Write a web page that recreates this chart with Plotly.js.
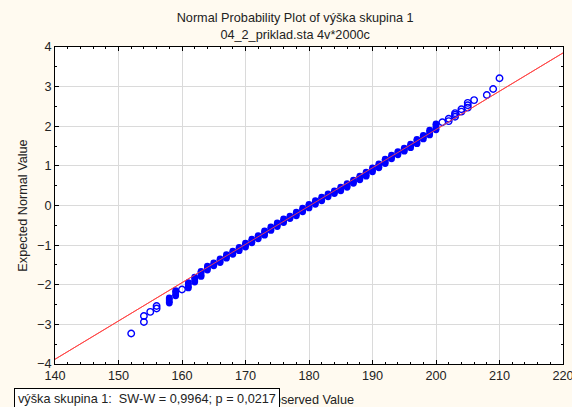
<!DOCTYPE html>
<html>
<head>
<meta charset="utf-8">
<script src="https://cdn.plot.ly/plotly-3.0.1.min.js"></script>
<style>html,body{margin:0;padding:0;background:#FFFAF0;}</style>
</head>
<body>
<div id="chart" style="width:572px;height:407px;"></div>
<script>
// Individual (sparse) observations: height vs expected normal value
const tailX = [152, 154, 154, 155, 156, 156, 160, 201, 202, 202, 203, 203, 203, 204, 204, 205, 205, 205, 206, 208, 209, 210];
const tailY = [-3.23, -2.94, -2.79, -2.685, -2.60, -2.535, -2.12, 2.10, 2.13, 2.19, 2.24, 2.29, 2.33, 2.37, 2.43, 2.47, 2.53, 2.59, 2.66, 2.79, 2.94, 3.21];

// Tied groups (dense stacks of points): height, lowest and highest expected normal value
const stackX = [158, 159, 161, 162, 163, 164, 165, 166, 167, 168, 169, 170, 171, 172, 173, 174, 175, 176, 177, 178, 179,
                180, 181, 182, 183, 184, 185, 186, 187, 188, 189, 190, 191, 192, 193, 194, 195, 196, 197, 198, 199, 200];
const stackLow = [-2.46, -2.28, -2.08, -1.93, -1.79, -1.63, -1.52, -1.44, -1.33, -1.23, -1.14, -1.05, -0.94, -0.84, -0.75, -0.63, -0.53, -0.43, -0.33, -0.26, -0.16,
                  -0.06, 0.03, 0.12, 0.22, 0.30, 0.37, 0.46, 0.56, 0.65, 0.74, 0.85, 0.95, 1.06, 1.18, 1.28, 1.37, 1.46, 1.56, 1.68, 1.78, 1.91];
const stackHigh = [-2.33, -2.15, -1.95, -1.81, -1.66, -1.53, -1.45, -1.35, -1.24, -1.15, -1.06, -0.95, -0.85, -0.76, -0.64, -0.54, -0.44, -0.34, -0.27, -0.17, -0.07,
                   0.03, 0.12, 0.21, 0.29, 0.37, 0.46, 0.55, 0.64, 0.74, 0.84, 0.95, 1.05, 1.17, 1.27, 1.36, 1.45, 1.55, 1.67, 1.77, 1.90, 2.06];

// Reference (fitted normal) line endpoints
const fitX = [140, 220];
const fitY = [-3.88, 3.85];

const titleText = 'Normal Probability Plot of výška skupina 1<br>04_2_priklad.sta 4v*2000c';
const xTitle = 'Observed Value';
const yTitle = 'Expected Normal Value';
const statText = 'výška skupina 1:\u00a0\u00a0SW-W = 0,9964; p = 0,0217';

const blue = '#0000FF';
const FONT = 'Liberation Sans, Arial, sans-serif';
const FS = 12.7;
const openCircle = {symbol: 'circle-open', size: 6.5, color: blue, line: {color: blue, width: 1.4}};
const denseEnd = {symbol: 'circle', size: 6.8, color: blue, line: {width: 0}};

// extent of each tied group, for the error-bar "stack" drawing
const stackSpan = stackX.map((_, i) => stackHigh[i] - stackLow[i]);
const zeros = stackX.map(() => 0);

const traces = [
  {x: fitX, y: fitY, type: 'scatter', mode: 'lines', line: {color: 'rgb(255,70,70)', width: 1}, hoverinfo: 'skip'},
  // dense stacks of overlapping circles: a thick bar from lowest to highest point of the tie group
  {x: stackX, y: stackLow, type: 'scatter', mode: 'markers', marker: denseEnd,
   error_y: {type: 'data', symmetric: false, array: stackSpan, arrayminus: zeros, color: blue, thickness: 6.8, width: 0}},
  {x: stackX, y: stackHigh, type: 'scatter', mode: 'markers', marker: denseEnd},
  {x: tailX, y: tailY, type: 'scatter', mode: 'markers', marker: openCircle},
  // red line drawn over the points, as in the reference
  {x: fitX, y: fitY, type: 'scatter', mode: 'lines', line: {color: 'rgba(255,70,70,0.85)', width: 1}, hoverinfo: 'skip'}
];

const axisFont = {family: FONT, size: FS, color: '#222'};

const layout = {
  width: 572, height: 407,
  paper_bgcolor: '#FFFAF0',
  plot_bgcolor: '#FFFFFF',
  showlegend: false,
  margin: {l: 55, r: 9, t: 47, b: 43},
  font: axisFont,
  title: {text: titleText, font: {family: FONT, size: FS, color: '#222'},
          x: 0.516, xref: 'container', xanchor: 'center', y: 0.945, yref: 'container', yanchor: 'top'},
  xaxis: {
    range: [140, 220], dtick: 10, tick0: 140,
    showline: true, linecolor: '#000', linewidth: 1, mirror: 'allticks',
    ticks: 'inside', ticklen: 4, tickcolor: '#000',
    showgrid: true, gridcolor: '#DADADA', gridwidth: 1, zeroline: false,
    minor: {dtick: 2, ticks: 'inside', ticklen: 2, tickcolor: '#000', showgrid: false},
    tickfont: axisFont, ticklabeloverflow: 'allow',
    title: {text: xTitle, font: axisFont, standoff: 12}
  },
  yaxis: {
    range: [-4, 4], dtick: 1, tick0: 0,
    showline: true, linecolor: '#000', linewidth: 1, mirror: 'allticks',
    ticks: 'inside', ticklen: 4, tickcolor: '#000',
    showgrid: true, gridcolor: '#DADADA', gridwidth: 1, zeroline: false,
    minor: {dtick: 0.5, ticks: 'inside', ticklen: 2, tickcolor: '#000', showgrid: false},
    tickfont: axisFont, ticklabeloverflow: 'allow',
    title: {text: yTitle, font: axisFont, standoff: 6}
  },
  annotations: [{
    text: statText, xref: 'paper', yref: 'paper',
    x: -0.081, y: -0.0757, xanchor: 'left', yanchor: 'top',
    showarrow: false, bgcolor: '#FFFFFF', bordercolor: '#000', borderwidth: 1, borderpad: 3,
    font: {family: FONT, size: FS, color: '#222'}
  }]
};

Plotly.newPlot('chart', traces, layout, {staticPlot: true, displayModeBar: false});
</script>
</body>
</html>
